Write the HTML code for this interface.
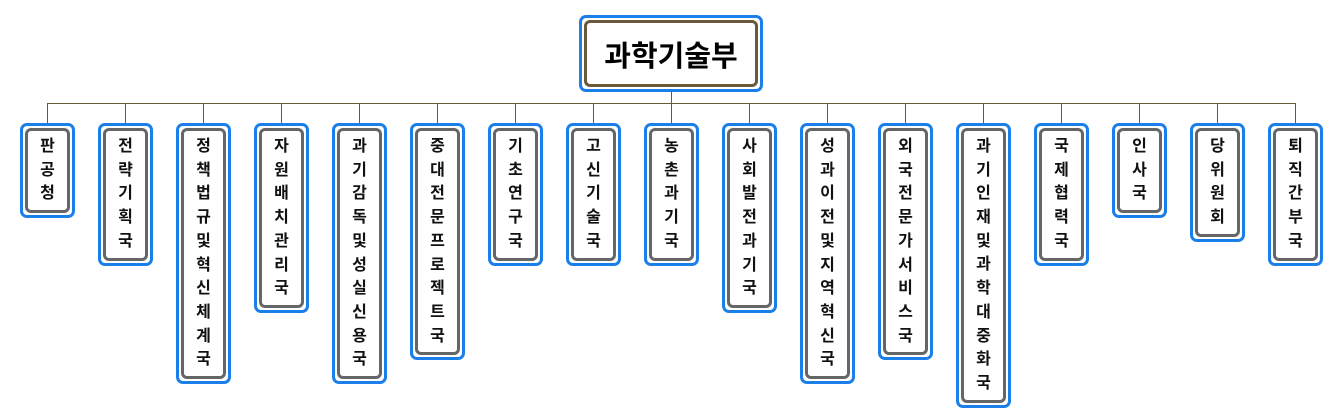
<!DOCTYPE html>
<html><head><meta charset="utf-8"><style>
body{margin:0;width:1341px;height:419px;background:#fff;position:relative;overflow:hidden;font-family:"Liberation Sans","Noto Sans CJK KR",sans-serif}
.o{position:absolute;border:3px solid #1a7fe8;border-radius:7px;box-sizing:border-box;background:#fff}
.i{position:absolute;left:2px;top:2px;right:2px;bottom:2px;border:3px solid #666;border-radius:6px;box-sizing:border-box;display:flex;align-items:center;justify-content:center;text-align:center}
.s .i{font-size:16px;line-height:23.7px;font-weight:bold;color:#111}
.l{position:absolute;background:#6b5a3a}
</style></head><body>
<div class="o" style="left:579px;top:15px;width:184px;height:77px"><div class="i" style="border-color:#6b5a3a;font-size:29px;font-weight:bold">과학기술부</div></div>
<div class="l" style="left:671px;top:91px;width:1px;height:13px"></div>
<div class="l" style="left:47px;top:103px;width:1249px;height:1px"></div>
<div id="c"></div>
<script>
var n=["판공청","전략기획국","정책법규및혁신체계국","자원배치관리국","과기감독및성실신용국","중대전문프로젝트국","기초연구국","고신기술국","농촌과기국","사회발전과기국","성과이전및지역혁신국","외국전문가서비스국","과기인재및과학대중화국","국제협력국","인사국","당위원회","퇴직간부국"];
var h="";
n.forEach(function(t,k){var x=20+k*78;var H=t.length*23.7+24;
h+='<div class="l" style="left:'+(x+27)+'px;top:103px;width:1px;height:21px"></div>';
h+='<div class="o s" style="left:'+x+'px;top:123px;width:55px;height:'+H+'px"><div class="i">'+t.split("").join("<br>")+'</div></div>';});
document.getElementById("c").innerHTML=h;
</script>
</body></html>
